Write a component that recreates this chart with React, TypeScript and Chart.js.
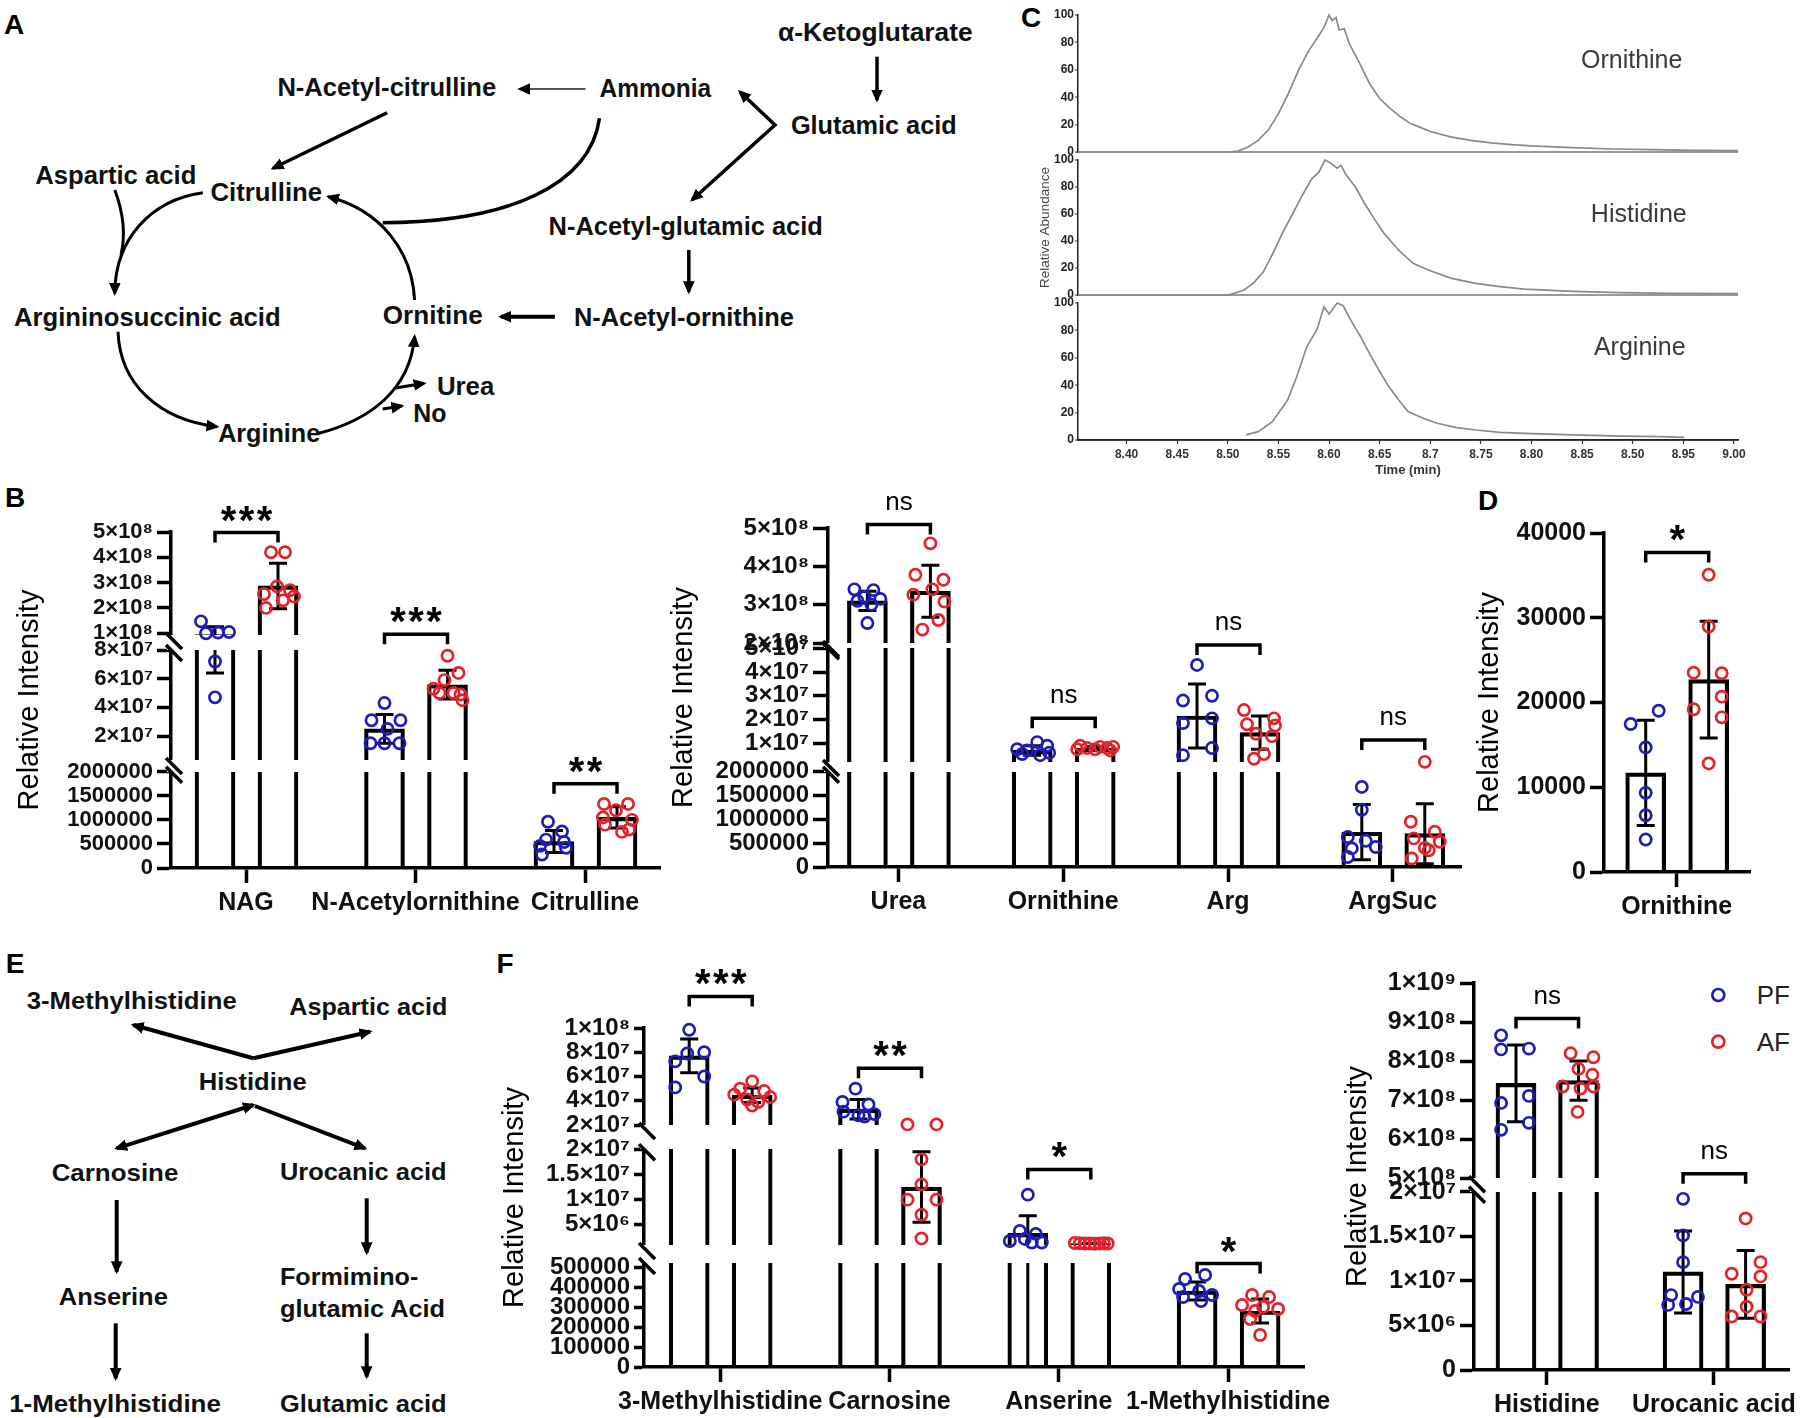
import React, { useEffect, useRef } from 'react';
import { Chart, registerables, LinearScale } from 'chart.js';

Chart.register(...registerables);

const FONT = "'Liberation Sans', Arial, Helvetica, sans-serif";
Chart.defaults.font.family = FONT;
Chart.defaults.color = '#111';

// ======================= DATA =======================
// ---- Panel B (left) ----
const BL_CATEGORIES = ['NAG', 'N-Acetylornithine', 'Citrulline'];
const BL_PF_VALUES = [
  [1.47e8, 1.0e8, 1.03e8, 1.05e8, 0.72e8, 0.47e8],
  [4.3e7, 3.1e7, 3.1e7, 2.5e7, 1.5e7, 1.5e7, 1.5e7],
  [9.6e5, 7.6e5, 5.9e5, 5.4e5, 4.6e5, 4.2e5, 2.8e5],
];
const BL_PF_MEAN = [0.95e8, 2.5e7, 5.5e5];
const BL_PF_SD = [0.31e8, 1.0e7, 2.3e5];
const BL_AF_VALUES = [
  [4.2e8, 4.2e8, 2.85e8, 2.55e8, 2.45e8, 2.0e8, 2.3e8, 2.7e8],
  [7.6e7, 6.4e7, 5.9e7, 5.3e7, 5.0e7, 4.9e7, 4.5e7, 5.0e7],
  [1.33e6, 1.33e6, 1.2e6, 1.05e6, 1.0e6, 0.9e6, 0.75e6, 0.8e6],
];
const BL_AF_MEAN = [2.87e8, 5.58e7, 1.05e6];
const BL_AF_SD = [0.9e8, 1.0e7, 2.2e5];
const BL_SIG_Y = [4.98e8, 0.91e8, 1.75e6];
const BL_SIG_TEXT = ['***', '***', '**'];
const BL_TICK_VALUES = [0, 5e5, 1e6, 1.5e6, 2e6, 2e7, 4e7, 6e7, 8e7, 1e8, 2e8, 3e8, 4e8, 5e8];
const BL_TICK_SEG = [0, 0, 0, 0, 0, 1, 1, 1, 1, 2, 2, 2, 2, 2];
const BL_TICK_LABELS = ['0', '500000', '1000000', '1500000', '2000000', '2×10⁷', '4×10⁷', '6×10⁷', '8×10⁷', '1×10⁸', '2×10⁸', '3×10⁸', '4×10⁸', '5×10⁸'];

// ---- Panel B (right) ----
const BR_CATEGORIES = ['Urea', 'Ornithine', 'Arg', 'ArgSuc'];
const BR_PF_VALUES = [
  [3.4e8, 3.38e8, 3.2e8, 3.15e8, 3.1e8, 3.0e8, 2.52e8],
  [1.05e7, 0.9e7, 0.75e7, 0.7e7, 0.6e7, 0.55e7, 0.5e7],
  [4.3e7, 3.0e7, 2.8e7, 2.05e7, 1.85e7, 0.8e7, 0.5e7],
  [1.68e6, 1.2e6, 6.3e5, 5.5e5, 4.2e5, 3.9e5, 2.1e5],
];
const BR_PF_MEAN = [3.1e8, 0.7e7, 2.15e7, 7.3e5];
const BR_PF_SD = [0.25e8, 0.2e7, 1.35e7, 5.8e5];
const BR_AF_VALUES = [
  [4.6e8, 3.78e8, 3.65e8, 3.26e8, 3.4e8, 3.08e8, 2.6e8, 2.35e8],
  [0.9e7, 0.85e7, 0.85e7, 0.8e7, 0.8e7, 0.75e7, 0.75e7, 0.7e7],
  [2.4e7, 2.05e7, 1.8e7, 1.75e7, 1.4e7, 1.3e7, 0.55e7, 0.35e7],
  [2.2e6, 9.5e5, 7.4e5, 6.0e5, 5.3e5, 4.0e5, 3.5e5, 1.8e5],
];
const BR_AF_MEAN = [3.35e8, 0.8e7, 1.45e7, 7.0e5];
const BR_AF_SD = [0.68e8, 0.07e7, 0.7e7, 6.3e5];
const BR_SIG_Y = [5.09e8, 2.05e7, 5.14e7, 1.14e7];
const BR_SIG_TEXT = ['ns', 'ns', 'ns', 'ns'];
const BR_TICK_VALUES = [0, 5e5, 1e6, 1.5e6, 2e6, 1e7, 2e7, 3e7, 4e7, 5e7, 2e8, 3e8, 4e8, 5e8];
const BR_TICK_SEG = [0, 0, 0, 0, 0, 1, 1, 1, 1, 1, 2, 2, 2, 2];
const BR_TICK_LABELS = ['0', '500000', '1000000', '1500000', '2000000', '1×10⁷', '2×10⁷', '3×10⁷', '4×10⁷', '5×10⁷', '2×10⁸', '3×10⁸', '4×10⁸', '5×10⁸'];

// ---- Panel D ----
const D_CATEGORIES = ['Ornithine'];
const D_PF_VALUES = [[17460, 19030, 14700, 9340, 6700, 3830]];
const D_PF_MEAN = [11700];
const D_PF_SD = [6200];
const D_AF_VALUES = [[35070, 28960, 23520, 23450, 20690, 19200, 18250, 12810]];
const D_AF_MEAN = [22700];
const D_AF_SD = [6900];
const D_SIG_Y = [37710];
const D_SIG_TEXT = ['*'];
const D_TICK_VALUES = [0, 10000, 20000, 30000, 40000];
const D_TICK_SEG = [0, 0, 0, 0, 0];
const D_TICK_LABELS = ['0', '10000', '20000', '30000', '40000'];

// ---- Panel F (left) ----
const FL_CATEGORIES = ['3-Methylhistidine', 'Carnosine', 'Anserine', '1-Methylhistidine'];
const FL_PF_VALUES = [
  [9.85e7, 8.0e7, 7.25e7, 6.0e7, 5.1e7, 7.9e7],
  [5.0e7, 3.9e7, 3.7e7, 3.1e7, 2.9e7, 2.8e7, 2.7e7],
  [1.1e7, 3.8e6, 3.2e6, 2.2e6, 1.8e6, 1.5e6, 1.5e6],
  [4.6e5, 4.4e5, 3.9e5, 3.8e5, 3.6e5, 3.5e5, 3.3e5],
];
const FL_PF_MEAN = [7.7e7, 3.3e7, 3.3e6, 3.8e5];
const FL_PF_SD = [1.4e7, 0.8e7, 3.5e6, 0.45e5];
const FL_AF_VALUES = [
  [5.6e7, 5.0e7, 4.8e7, 4.5e7, 4.3e7, 4.1e7, 3.9e7, 3.6e7],
  [2.05e7, 2.05e7, 1.8e7, 1.3e7, 1.0e7, 1.0e7, 0.7e7, 0.23e7],
  [1.4e6, 1.35e6, 1.3e6, 1.3e6, 1.25e6, 1.3e6, 1.35e6, 1.3e6],
  [3.6e5, 3.5e5, 3.1e5, 3.0e5, 2.9e5, 2.8e5, 2.4e5, 1.6e5],
];
const FL_AF_MEAN = [4.45e7, 1.25e7, 1.3e6, 2.8e5];
const FL_AF_SD = [0.6e7, 0.7e7, 0.05e6, 0.6e5];
const FL_SIG_Y = [1.26e8, 6.69e7, 1.6e7, 5.17e5];
const FL_SIG_TEXT = ['***', '**', '*', '*'];
const FL_TICK_VALUES = [0, 1e5, 2e5, 3e5, 4e5, 5e5, 5e6, 1e7, 1.5e7, 2e7, 2e7, 4e7, 6e7, 8e7, 1e8];
const FL_TICK_SEG = [0, 0, 0, 0, 0, 0, 1, 1, 1, 1, 2, 2, 2, 2, 2];
const FL_TICK_LABELS = ['0', '100000', '200000', '300000', '400000', '500000', '5×10⁶', '1×10⁷', '1.5×10⁷', '2×10⁷', '2×10⁷', '4×10⁷', '6×10⁷', '8×10⁷', '1×10⁸'];

// ---- Panel F (right) ----
const FR_CATEGORIES = ['Histidine', 'Urocanic acid'];
const FR_PF_VALUES = [
  [8.66e8, 8.3e8, 8.32e8, 7.11e8, 6.93e8, 6.42e8, 6.24e8],
  [1.92e7, 1.51e7, 1.21e7, 8.4e6, 8.2e6, 7.3e6, 7.4e6],
];
const FR_PF_MEAN = [7.43e8, 1.1e7];
const FR_PF_SD = [0.98e8, 4.6e6];
const FR_AF_VALUES = [
  [8.2e8, 8.1e8, 7.8e8, 7.65e8, 7.35e8, 7.3e8, 7.35e8, 6.7e8],
  [1.7e7, 1.21e7, 1.08e7, 1.05e7, 9.0e6, 7.1e6, 6.0e6, 6.0e6],
];
const FR_AF_MEAN = [7.5e8, 9.6e6];
const FR_AF_SD = [0.5e8, 3.8e6];
const FR_SIG_Y = [9.09e8, 2.2e7];
const FR_SIG_TEXT = ['ns', 'ns'];
const FR_TICK_VALUES = [0, 5e6, 1e7, 1.5e7, 2e7, 5e8, 6e8, 7e8, 8e8, 9e8, 1e9];
const FR_TICK_SEG = [0, 0, 0, 0, 0, 1, 1, 1, 1, 1, 1];
const FR_TICK_LABELS = ['0', '5×10⁶', '1×10⁷', '1.5×10⁷', '2×10⁷', '5×10⁸', '6×10⁸', '7×10⁸', '8×10⁸', '9×10⁸', '1×10⁹'];

// ---- Panel C (chromatograms) ----
const C_TICK_VALUES = [8.4, 8.45, 8.5, 8.55, 8.6, 8.65, 8.7, 8.75, 8.8, 8.85, 8.9, 8.95, 9.0];
const C_TICK_LABELS = ['8.40', '8.45', '8.50', '8.55', '8.60', '8.65', '8.7', '8.75', '8.80', '8.85', '8.50', '8.95', '9.00'];
const C_ORN_TIME = [8.352, 8.4, 8.45, 8.5, 8.51, 8.52, 8.53, 8.54, 8.55, 8.56, 8.57, 8.58, 8.59, 8.595, 8.6, 8.603, 8.607, 8.61, 8.615, 8.62, 8.63, 8.64, 8.65, 8.66, 8.67, 8.68, 8.69, 8.7, 8.72, 8.74, 8.76, 8.78, 8.8, 8.84, 8.88, 8.92, 8.96, 9.004];
const C_ORN_ABUND = [0, 0, 0, 0, 0.7, 3.7, 8.5, 16, 28, 43, 60, 74, 85, 91, 100, 96, 98, 89, 90, 79, 65, 50, 39, 32, 26, 21, 18, 15, 11, 8.5, 6.6, 5.4, 4.4, 3.2, 2.2, 1.7, 1.2, 1.0];
const C_HIS_TIME = [8.352, 8.4, 8.45, 8.5, 8.506, 8.516, 8.525, 8.535, 8.544, 8.554, 8.564, 8.573, 8.583, 8.59, 8.596, 8.602, 8.608, 8.612, 8.616, 8.626, 8.635, 8.645, 8.654, 8.669, 8.683, 8.698, 8.721, 8.745, 8.769, 8.793, 8.841, 8.889, 8.937, 9.004];
const C_HIS_ABUND = [0, 0, 0, 0, 1.2, 3.7, 8.6, 17, 30, 46, 60, 73, 86, 91, 100, 97.5, 94, 96, 90, 80, 68, 56, 46, 33, 23.5, 18.5, 12.3, 8.6, 6.2, 4.4, 2.7, 1.7, 1.2, 1.0];
const C_ARG_TIME = [8.518, 8.53, 8.544, 8.559, 8.568, 8.578, 8.588, 8.595, 8.6, 8.604, 8.608, 8.614, 8.621, 8.631, 8.64, 8.65, 8.659, 8.669, 8.678, 8.693, 8.707, 8.726, 8.745, 8.769, 8.793, 8.841, 8.889, 8.927, 8.951];
const C_ARG_ABUND = [3.7, 6.1, 13.4, 29, 46, 68, 80.5, 97, 92, 96, 100, 98, 88, 75.6, 63, 50, 39, 29, 20.7, 15.9, 12.2, 9, 7.3, 5.6, 4.9, 3.7, 2.9, 2.4, 1.9];

// ======================= POINT SCATTER (horizontal jitter, px) =======================
const BL_PF_JITTER = [[-14, -9, 3, 14, 0, 0], [0, -13, 16, 3, -14, 0, 15], [-6, 8, -8, 10, -14, 12, -12]];
const BL_AF_JITTER = [[-7, 7, -1, -14, 16, -12, 5, 12], [0, 11, -3, -14, 6, 13, 15, -8], [-13, 11, -1, -14, 15, -12, 5, 12]];
const BR_PF_JITTER = [[-13, 6, -3, 13, -10, 4, 0], [5, 15, -15, -5, 17, -10, 8], [0, 15, -14, 15, -14, 15, -14], [0, 0, -14, 4, 14, -10, -14]];
const BR_AF_JITTER = [[0, -15, 13, -17, 2, 14, 8, -8], [-15, 5, 18, -8, 12, -18, 0, 15], [-16, 14, -13, 15, -4, 12, 4, -6], [0, -14, 10, -11, 15, 0, 4, -13]];
const D_PF_JITTER = [[-15, 13, 0, 0, 0, 0]];
const D_AF_JITTER = [[0, 0, -15, 13, 13, -15, 13, 0]];
const FL_PF_JITTER = [[0, 15, -14, 15, -14, -2], [-3, -16, 10, -15, 16, 0, 6], [0, -8, 8, -3, -18, 14, 4], [8, -12, -18, 2, 15, -14, 4]];
const FL_AF_JITTER = [[0, -12, 12, -18, 18, -5, 6, 0], [-14, 15, 0, 0, -14, 15, 0, 0], [-16, -11, -6, -1, 4, 9, 13, 17], [-8, 9, -18, 3, 18, -5, -10, 0]];
const FR_PF_JITTER = [[-15, -15, 13, 13, -15, 13, -15], [0, 0, 0, -12, 15, -15, 3]];
const FR_AF_JITTER = [[-8, 15, 0, 14, -16, 2, 15, -1], [0, 15, -14, 15, 1, 1, -14, 15]];

// ======================= STYLE / LAYOUT =======================
const PF_COLOR = '#1d1db8';
const AF_COLOR = '#e3232b';
const BAR_W = 40;
const BAR_OFFSET_PX = [-31, 32];
const CAP_HALF = 9;
const LINE_W = 3.5;

const BAR_PANELS: any[] = [
  {
    key: 'BL', cats: BL_CATEGORIES,
    pf: { values: BL_PF_VALUES, jitter: BL_PF_JITTER, mean: BL_PF_MEAN, sd: BL_PF_SD },
    af: { values: BL_AF_VALUES, jitter: BL_AF_JITTER, mean: BL_AF_MEAN, sd: BL_AF_SD },
    sigY: BL_SIG_Y, sigText: BL_SIG_TEXT,
    segs: [{ min: 0, max: 2e6, h: 96.3 }, { min: 0.33e7, max: 8e7, h: 110 }, { min: 0.93e8, max: 5e8, h: 103 }],
    gaps: [11.7, 15],
    tickValues: BL_TICK_VALUES, tickSeg: BL_TICK_SEG, tickLabels: BL_TICK_LABELS,
    layout: { l: 171, t: 532, r: 660, b: 868, yw: 171, xh: 60, padT: 60, padR: 12, padB: 4, c1: 246, sp: 169.5, titlePad: 15, tickFont: 22, tickLen: 14 },
  },
  {
    key: 'BR', cats: BR_CATEGORIES,
    pf: { values: BR_PF_VALUES, jitter: BR_PF_JITTER, mean: BR_PF_MEAN, sd: BR_PF_SD },
    af: { values: BR_AF_VALUES, jitter: BR_AF_JITTER, mean: BR_AF_MEAN, sd: BR_AF_SD },
    sigY: BR_SIG_Y, sigText: BR_SIG_TEXT,
    segs: [{ min: 0, max: 2e6, h: 95.3 }, { min: 0.213e7, max: 5e7, h: 113.7 }, { min: 2e8, max: 5e8, h: 115 }],
    gaps: [9.7, 5.3],
    tickValues: BR_TICK_VALUES, tickSeg: BR_TICK_SEG, tickLabels: BR_TICK_LABELS,
    layout: { l: 828, t: 528, r: 1461, b: 867, yw: 160, xh: 60, padT: 60, padR: 10, padB: 4, c1: 898.4, sp: 164.8, titlePad: 1.5, tickFont: 24, tickLen: 15 },
  },
  {
    key: 'D', cats: D_CATEGORIES,
    pf: { values: D_PF_VALUES, jitter: D_PF_JITTER, mean: D_PF_MEAN, sd: D_PF_SD },
    af: { values: D_AF_VALUES, jitter: D_AF_JITTER, mean: D_AF_MEAN, sd: D_AF_SD },
    sigY: D_SIG_Y, sigText: D_SIG_TEXT,
    segs: [{ min: 0, max: 40000, h: 339 }],
    gaps: [],
    tickValues: D_TICK_VALUES, tickSeg: D_TICK_SEG, tickLabels: D_TICK_LABELS,
    layout: { l: 1604, t: 533, r: 1750, b: 872, yw: 130, xh: 60, padT: 60, padR: 20, padB: 4, c1: 1676.7, sp: 169, titlePad: 1.5, tickFont: 25, tickLen: 14 },
  },
  {
    key: 'FL', cats: FL_CATEGORIES,
    pf: { values: FL_PF_VALUES, jitter: FL_PF_JITTER, mean: FL_PF_MEAN, sd: FL_PF_SD },
    af: { values: FL_AF_VALUES, jitter: FL_AF_JITTER, mean: FL_AF_MEAN, sd: FL_AF_SD },
    sigY: FL_SIG_Y, sigText: FL_SIG_TEXT,
    segs: [{ min: 0, max: 5.2e5, h: 104 }, { min: 1e6, max: 2e7, h: 95.7 }, { min: 2e7, max: 1e8, h: 97 }],
    gaps: [18, 24.3],
    tickValues: FL_TICK_VALUES, tickSeg: FL_TICK_SEG, tickLabels: FL_TICK_LABELS,
    layout: { l: 644, t: 1028, r: 1304, b: 1367, yw: 150, xh: 50, padT: 80, padR: 40, padB: 1, c1: 720.2, sp: 169.3, titlePad: 6.3, tickFont: 24, tickLen: 10 },
  },
  {
    key: 'FR', cats: FR_CATEGORIES,
    pf: { values: FR_PF_VALUES, jitter: FR_PF_JITTER, mean: FR_PF_MEAN, sd: FR_PF_SD },
    af: { values: FR_AF_VALUES, jitter: FR_AF_JITTER, mean: FR_AF_MEAN, sd: FR_AF_SD },
    sigY: FR_SIG_Y, sigText: FR_SIG_TEXT,
    segs: [{ min: 0, max: 2e7, h: 178.3 }, { min: 5e8, max: 1e9, h: 195.3 }],
    gaps: [13.4],
    tickValues: FR_TICK_VALUES, tickSeg: FR_TICK_SEG, tickLabels: FR_TICK_LABELS,
    layout: { l: 1474, t: 983, r: 1792, b: 1370, yw: 135, xh: 46, padT: 30, padR: 6, padB: 2, c1: 1547.3, sp: 168.3, titlePad: 4.8, tickFont: 25, tickLen: 14 },
  },
];

const C_X_MIN = 8.352;
const C_X_MAX = 9.004;
const TRACE_PANELS: any[] = [
  { key: 'C1', t: C_ORN_TIME, v: C_ORN_ABUND, label: 'Ornithine', labelX: 8.899, labelY: 66, showX: false, yTitle: '',
    layout: { l: 1078, t: 15, r: 1738, b: 152, yw: 40, xh: 0, padT: 8, padR: 12, padB: 2 } },
  { key: 'C2', t: C_HIS_TIME, v: C_HIS_ABUND, label: 'Histidine', labelX: 8.906, labelY: 59, showX: false, yTitle: 'Relative Abundance',
    layout: { l: 1078, t: 160, r: 1738, b: 295, yw: 40, xh: 0, padT: 8, padR: 12, padB: 2 } },
  { key: 'C3', t: C_ARG_TIME, v: C_ARG_ABUND, label: 'Arginine', labelX: 8.907, labelY: 67, showX: true, yTitle: '',
    layout: { l: 1078, t: 303, r: 1738, b: 440, yw: 40, xh: 38, padT: 8, padR: 12, padB: 2 } },
];

// ======================= BROKEN AXIS SCALE =======================
const BROKEN: Record<string, any> = {};

function registerBroken(id: string, segs: any[], gaps: number[], tv: number[], ts: number[], tl: string[]) {
  const total = segs.reduce((a, s) => a + s.h, 0) + gaps.reduce((a, g) => a + g, 0);
  let acc = 0;
  const out = segs.map((s, i) => {
    const from = acc / total;
    acc += s.h;
    const to = acc / total;
    if (i < gaps.length) acc += gaps[i];
    return { ...s, from, to };
  });
  BROKEN[id] = { segs: out, ticks: tv.map((v, i) => ({ value: v, seg: ts[i], label: tl[i] })) };
}

class BrokenScale extends (LinearScale as any) {
  static id = 'broken';
  _decFor(v: number, si?: number) {
    const c = BROKEN[(this as any).id];
    let s = c.segs[0];
    if (si != null) s = c.segs[si];
    else for (const g of c.segs) if (v >= g.min) s = g;
    return s.from + ((v - s.min) / (s.max - s.min)) * (s.to - s.from);
  }
  getPixelForValue(v: number) {
    if (v == null || Number.isNaN(v)) return NaN;
    return (this as any).getPixelForDecimal(this._decFor(v));
  }
  getPixelForTick(i: number) {
    const t = (this as any).ticks[i];
    return t ? (this as any).getPixelForDecimal(this._decFor(t.value, t.seg)) : NaN;
  }
  buildTicks() {
    return BROKEN[(this as any).id].ticks.map((t: any) => ({ value: t.value, seg: t.seg }));
  }
}
Chart.register(BrokenScale as any);

// ======================= HELPERS =======================
function rectOf(L: any) {
  const x = L.l - L.yw;
  const y = L.t - L.padT;
  return { x, y, w: L.r + L.padR - x, h: L.b + L.xh + L.padB - y };
}

function drawSig(ctx: CanvasRenderingContext2D, text: string, cx: number, cy: number) {
  ctx.fillStyle = '#000';
  ctx.textAlign = 'center';
  ctx.textBaseline = 'alphabetic';
  if (text[0] === '*') {
    ctx.font = `bold 40px ${FONT}`;
    const n = text.length;
    for (let i = 0; i < n; i++) ctx.fillText('*', cx + (i - (n - 1) / 2) * 18, cy + 23);
  } else {
    ctx.font = `26px ${FONT}`;
    ctx.fillText(text, cx, cy + 7);
  }
}

function barPanelChart(canvas: HTMLCanvasElement, P: any) {
  const L = P.layout;
  const yId = 'y' + P.key;
  registerBroken(yId, P.segs, P.gaps, P.tickValues, P.tickSeg, P.tickLabels);
  const sp = L.sp;
  const xmin = 1 - (L.c1 - L.l) / sp;
  const xmax = 1 + (L.r - L.c1) / sp;
  const offs = [BAR_OFFSET_PX[0] / sp, BAR_OFFSET_PX[1] / sp];
  const groups = [P.pf, P.af];
  const colors = [PF_COLOR, AF_COLOR];
  const datasets: any[] = [];
  groups.forEach((g: any, gi: number) => {
    datasets.push({
      type: 'scatter', order: 1, xAxisID: 'x', yAxisID: yId, clip: false, showLine: false,
      data: g.values.flatMap((vals: number[], ci: number) =>
        vals.map((v, k) => ({ x: ci + 1 + offs[gi] + g.jitter[ci][k] / sp, y: v }))),
      pointRadius: 5.6, pointHoverRadius: 5.6, pointBorderWidth: 2.7, pointHoverBorderWidth: 2.7,
      pointBorderColor: colors[gi], pointBackgroundColor: 'rgba(0,0,0,0)',
      borderColor: colors[gi], backgroundColor: 'rgba(0,0,0,0)',
    });
  });
  groups.forEach((g: any, gi: number) => {
    datasets.push({
      type: 'bar', order: 2, xAxisID: 'x', yAxisID: yId, grouped: false, barThickness: BAR_W,
      data: g.mean.map((m: number, ci: number) => ({ x: ci + 1 + offs[gi], y: m })),
      backgroundColor: 'rgba(255,255,255,0)', borderColor: '#000', borderWidth: LINE_W, borderSkipped: 'start',
    });
  });

  let done = false;
  const drawMid = (chart: any) => {
    const ctx = chart.ctx;
    const x = chart.scales.x;
    const y = chart.scales[yId];
    const ca = chart.chartArea;
    ctx.save();
    ctx.beginPath();
    ctx.rect(ca.left, ca.top - 40, ca.right - ca.left, ca.bottom - ca.top + 40);
    ctx.clip();
    ctx.strokeStyle = '#000';
    ctx.lineWidth = 3;
    groups.forEach((g: any, gi: number) => g.mean.forEach((m: number, ci: number) => {
      const px = x.getPixelForValue(ci + 1 + offs[gi]);
      const hi = y.getPixelForValue(m + g.sd[ci]);
      const lo = y.getPixelForValue(m - g.sd[ci]);
      ctx.beginPath();
      ctx.moveTo(px, hi); ctx.lineTo(px, lo);
      ctx.moveTo(px - CAP_HALF, hi); ctx.lineTo(px + CAP_HALF, hi);
      ctx.moveTo(px - CAP_HALF, lo); ctx.lineTo(px + CAP_HALF, lo);
      ctx.stroke();
    }));
    ctx.restore();
    const segs = BROKEN[yId].segs;
    for (let i = 0; i < segs.length - 1; i++) {
      const lowTop = y.getPixelForDecimal(segs[i].to);
      const upBot = y.getPixelForDecimal(segs[i + 1].from);
      ctx.clearRect(ca.left - 4, upBot, ca.right - ca.left + 8, lowTop - upBot);
    }
  };

  const plugin = {
    id: 'panel' + P.key,
    beforeDatasetsDraw() { done = false; },
    beforeDatasetDraw(chart: any, args: any) {
      if (!done && chart.data.datasets[args.index].type === 'scatter') { drawMid(chart); done = true; }
    },
    afterDatasetsDraw(chart: any) { if (!done) { drawMid(chart); done = true; } },
    afterDraw(chart: any) {
      const ctx = chart.ctx;
      const x = chart.scales.x;
      const y = chart.scales[yId];
      const ca = chart.chartArea;
      ctx.save();
      ctx.strokeStyle = '#000';
      ctx.lineWidth = LINE_W;
      const segs = BROKEN[yId].segs;
      for (let i = 0; i < segs.length - 1; i++) {
        const lowTop = y.getPixelForDecimal(segs[i].to);
        const upBot = y.getPixelForDecimal(segs[i + 1].from);
        [upBot + 6, lowTop + 3].forEach((cy) => {
          ctx.beginPath();
          ctx.moveTo(ca.left - 5, cy - 8);
          ctx.lineTo(ca.left + 11, cy + 8);
          ctx.stroke();
        });
      }
      P.sigY.forEach((sv: number, ci: number) => {
        const x1 = x.getPixelForValue(ci + 1 + offs[0]);
        const x2 = x.getPixelForValue(ci + 1 + offs[1]);
        const yy = y.getPixelForValue(sv);
        ctx.beginPath();
        ctx.moveTo(x1, yy + 10); ctx.lineTo(x1, yy); ctx.lineTo(x2, yy); ctx.lineTo(x2, yy + 10);
        ctx.stroke();
        drawSig(ctx, P.sigText[ci], (x1 + x2) / 2, yy - 22);
      });
      ctx.restore();
    },
  };

  const topMax = P.segs[P.segs.length - 1].max;
  return new Chart(canvas, {
    type: 'scatter',
    data: { datasets },
    options: {
      responsive: false, animation: false, devicePixelRatio: 1, events: [],
      layout: { padding: { left: 0, top: L.padT, right: L.padR, bottom: L.padB } },
      plugins: { legend: { display: false }, tooltip: { enabled: false } },
      scales: {
        x: {
          type: 'linear', position: 'bottom', min: xmin, max: xmax, offset: false,
          afterBuildTicks: (s: any) => { s.ticks = P.cats.map((_: any, i: number) => ({ value: i + 1 })); },
          afterFit: (s: any) => { s.height = L.xh; s.paddingLeft = 0; s.paddingRight = 0; },
          ticks: { autoSkip: false, maxRotation: 0, minRotation: 0, padding: 5, font: { size: 25, weight: 'bold', family: FONT }, color: '#111', callback: (_v: any, i: number) => P.cats[i] },
          grid: { display: true, drawOnChartArea: false, drawTicks: true, tickLength: 15, tickWidth: LINE_W, tickColor: '#000', offset: false },
          border: { display: true, color: '#000', width: LINE_W },
        },
        [yId]: {
          type: 'broken', position: 'left', min: 0, max: topMax,
          afterFit: (s: any) => { s.width = L.yw; s.paddingTop = 0; s.paddingBottom = 0; },
          ticks: { autoSkip: false, padding: 4, font: { size: L.tickFont, weight: 'bold', family: FONT }, color: '#111', callback: (_v: any, i: number) => P.tickLabels[i] },
          grid: { display: true, drawOnChartArea: false, drawTicks: true, tickLength: L.tickLen, tickWidth: LINE_W, tickColor: '#000' },
          border: { display: true, color: '#000', width: LINE_W },
          title: { display: true, text: 'Relative Intensity', font: { size: 29, family: FONT, weight: 'normal', lineHeight: 1 }, color: '#000', padding: { top: L.titlePad, bottom: 0 } },
        },
      },
    } as any,
    plugins: [plugin],
  } as any);
}

function traceChart(canvas: HTMLCanvasElement, P: any) {
  const L = P.layout;
  return new Chart(canvas, {
    type: 'line',
    data: {
      datasets: [{
        data: P.t.map((t: number, i: number) => ({ x: t, y: P.v[i] })),
        borderColor: '#8a8a8a', borderWidth: 1.7, pointRadius: 0, fill: false, tension: 0, clip: 4,
      }],
    },
    options: {
      responsive: false, animation: false, devicePixelRatio: 1, events: [],
      layout: { padding: { left: 0, top: L.padT, right: L.padR, bottom: L.padB } },
      plugins: { legend: { display: false }, tooltip: { enabled: false } },
      scales: {
        x: {
          type: 'linear', min: C_X_MIN, max: C_X_MAX, display: P.showX, offset: false,
          afterBuildTicks: (s: any) => { s.ticks = C_TICK_VALUES.map((v) => ({ value: v })); },
          afterFit: (s: any) => { s.height = L.xh; s.paddingLeft = 0; s.paddingRight = 0; },
          ticks: { autoSkip: false, maxRotation: 0, padding: 3, font: { size: 12, weight: 'bold' }, color: '#333', callback: (_v: any, i: number) => C_TICK_LABELS[i] },
          grid: { drawOnChartArea: false, tickLength: 4, tickWidth: 1.2, tickColor: '#333', offset: false },
          border: { color: '#222', width: 1.8 },
          title: { display: true, text: 'Time (min)', font: { size: 13, weight: 'bold', lineHeight: 1 }, color: '#333', padding: { top: 0, bottom: 1.5 } },
        },
        y: {
          type: 'linear', position: 'left', min: 0, max: 100,
          afterFit: (s: any) => { s.width = L.yw; s.paddingTop = 0; s.paddingBottom = 0; },
          ticks: { stepSize: 20, padding: 1, font: { size: 12, weight: 'bold' }, color: '#222', autoSkip: false },
          grid: {
            drawOnChartArea: true, drawTicks: true, tickLength: 3, tickWidth: 1.2, tickColor: '#333', lineWidth: 2,
            color: (c: any) => (c.tick && c.tick.value === 0 ? '#9a9a9a' : 'rgba(0,0,0,0)'),
          },
          border: { color: '#222', width: 1.5 },
          title: { display: !!P.yTitle, text: P.yTitle || '', font: { size: 13.5, lineHeight: 1 }, color: '#444', padding: { top: 0.3, bottom: 0 } },
        },
      },
    } as any,
    plugins: [{
      id: 'lbl' + P.key,
      afterDraw(chart: any) {
        const ctx = chart.ctx;
        ctx.save();
        ctx.font = `25px ${FONT}`;
        ctx.fillStyle = '#3a3a3a';
        ctx.textAlign = 'center';
        ctx.textBaseline = 'middle';
        ctx.fillText(P.label, chart.scales.x.getPixelForValue(P.labelX), chart.scales.y.getPixelForValue(P.labelY));
        ctx.restore();
      },
    }],
  } as any);
}

function ChartBox({ rect, build }: { rect: any; build: (c: HTMLCanvasElement) => any }) {
  const ref = useRef<HTMLCanvasElement>(null);
  useEffect(() => {
    const ch = build(ref.current as HTMLCanvasElement);
    return () => ch.destroy();
  }, []);
  return (
    <canvas ref={ref} width={rect.w} height={rect.h}
      style={{ position: 'absolute', left: rect.x, top: rect.y, width: rect.w, height: rect.h }} />
  );
}

// ======================= DIAGRAMS (A, E) =======================
const A_LABELS: [string, number, number, number][] = [
  ['α-Ketoglutarate', 875.3, 31.7, 194.6],
  ['N-Acetyl-citrulline', 386.8, 87.3, 218.8],
  ['Ammonia', 655.3, 88.3, 111.6],
  ['Glutamic acid', 873.8, 125, 165.8],
  ['Aspartic acid', 115.8, 175, 161.3],
  ['Citrulline', 266.3, 192.3, 111.6],
  ['N-Acetyl-glutamic acid', 685.7, 226, 274.3],
  ['Argininosuccinic acid', 147.3, 316.7, 266.6],
  ['Ornitine', 432.8, 315, 100.1],
  ['N-Acetyl-ornithine', 684, 316.7, 220],
  ['Urea', 465.6, 386, 57.4],
  ['No', 429.9, 413.3, 33.2],
  ['Arginine', 269.2, 433.3, 102.1],
];
const E_LABELS: [string, number, number, number][] = [
  ['3-Methylhistidine', 131.7, 1000, 210],
  ['Aspartic acid', 368.3, 1006, 158],
  ['Histidine', 252.7, 1081.7, 108],
  ['Carnosine', 115, 1172.7, 126.7],
  ['Urocanic acid', 363.3, 1171.7, 166.7],
  ['Anserine', 113.3, 1296.7, 109],
  ['1-Methylhistidine', 115, 1403.3, 211.7],
  ['Glutamic acid', 363.3, 1403.3, 166.7],
];
const E_LABELS_LEFT: [string, number, number, number][] = [
  ['Formimino-', 280, 1276.7, 138.3],
  ['glutamic Acid', 280, 1308.3, 165],
];
const PANEL_LETTERS: [string, number, number][] = [
  ['A', 14, 24], ['B', 15, 497], ['C', 1031, 17], ['D', 1488, 500], ['E', 15, 963], ['F', 505, 963],
];

function Diagram() {
  const txt = (items: [string, number, number, number][], size: number, anchor: string) =>
    items.map(([s, x, y, w], i) => (
      <text key={s + i} x={x} y={y} fontSize={size} fontWeight="bold" textAnchor={anchor}
        dominantBaseline="central" textLength={w} lengthAdjust="spacingAndGlyphs" fill="#111">{s}</text>
    ));
  const P = (d: string, opts: any = {}) => (
    <path d={d} fill="none" stroke={opts.color || '#000'} strokeWidth={opts.w || 3.5}
      markerEnd={opts.noEnd ? undefined : 'url(#ah)'} markerStart={opts.start ? 'url(#ah)' : undefined} />
  );
  return (
    <svg width={1800} height={1418} style={{ position: 'absolute', left: 0, top: 0 }} fontFamily={FONT}>
      <defs>
        <marker id="ah" viewBox="0 0 10 10" refX="8" refY="5" markerWidth="13" markerHeight="13"
          markerUnits="userSpaceOnUse" orient="auto-start-reverse">
          <path d="M0,0.5 L10,5 L0,9.5 z" fill="#000" />
        </marker>
      </defs>
      {PANEL_LETTERS.map(([s, x, y]) => (
        <text key={s} x={x} y={y} fontSize={28} fontWeight="bold" textAnchor="middle" dominantBaseline="central" fill="#000">{s}</text>
      ))}
      {txt(A_LABELS, 25, 'middle')}
      {txt(E_LABELS, 24, 'middle')}
      {txt(E_LABELS_LEFT, 24, 'start')}
      {/* Panel A arrows */}
      {P('M877,56.7 L877,100')}
      {P('M585.5,89 L519.8,89', { w: 2, color: '#555' })}
      {P('M387.1,112.7 L273,168.3')}
      {P('M739.9,91.7 L775,125 L692,200', { start: true })}
      {P('M688.8,250 L688.8,291.7')}
      {P('M554.9,316.7 L500.7,316.7', { w: 4 })}
      {P('M114.8,190 Q128,225 121,255', { noEnd: true, w: 3 })}
      {P('M202.8,192.7 C150,200 115,240 114.8,293.3', { w: 3 })}
      {P('M118,331.7 C120,385 160,420 216.9,426.7', { w: 3 })}
      {P('M318.9,433.3 C370,420 410,390 414.6,336.7', { w: 3 })}
      {P('M395.4,388 L424.1,383.3', { w: 3 })}
      {P('M382.7,409 L401.8,406', { w: 3 })}
      {P('M414.6,300 C412,250 380,210 328.5,196.7', { w: 3 })}
      {P('M599.5,118.3 C590,185 510,222 382.7,222.7', { noEnd: true, w: 3.5 })}
      {/* Panel E arrows */}
      {P('M253.3,1058.3 L133.3,1025', { w: 4 })}
      {P('M253.3,1058.3 L370,1031.7', { w: 4 })}
      {P('M253.3,1105 L116.7,1148.3', { w: 4, start: true })}
      {P('M255,1106 L365,1148.3', { w: 4 })}
      {P('M116.7,1200 L116.7,1271.7', { w: 4 })}
      {P('M115.7,1323.3 L115.7,1378.3', { w: 4 })}
      {P('M366.7,1198.3 L366.7,1252.7', { w: 4 })}
      {P('M366.7,1333.3 L366.7,1376.7', { w: 4 })}
      {/* Legend (panel F right) */}
      <circle cx={1718.3} cy={995} r={6} fill="none" stroke={PF_COLOR} strokeWidth={2.7} />
      <text x={1756.7} y={995} fontSize={26} dominantBaseline="central" fill="#222">PF</text>
      <circle cx={1718.3} cy={1041.7} r={6} fill="none" stroke={AF_COLOR} strokeWidth={2.7} />
      <text x={1756.7} y={1041.7} fontSize={26} dominantBaseline="central" fill="#222">AF</text>
    </svg>
  );
}

export default function App() {
  return (
    <div style={{ position: 'absolute', left: 0, top: 0, width: 1800, height: 1418, background: '#fff', overflow: 'hidden', fontFamily: FONT }}>
      <Diagram />
      {TRACE_PANELS.map((P) => (
        <ChartBox key={P.key} rect={rectOf(P.layout)} build={(c) => traceChart(c, P)} />
      ))}
      {BAR_PANELS.map((P) => (
        <ChartBox key={P.key} rect={rectOf(P.layout)} build={(c) => barPanelChart(c, P)} />
      ))}
    </div>
  );
}
